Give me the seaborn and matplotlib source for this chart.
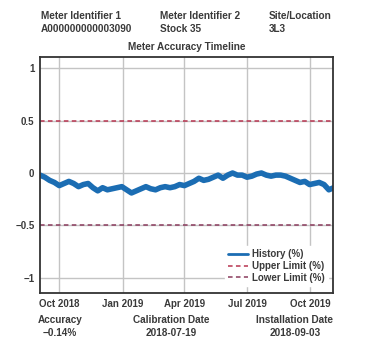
import matplotlib
matplotlib.use("Agg")
import matplotlib.pyplot as plt
import matplotlib.dates as mdates
import seaborn as sns
import pandas as pd

history_dates = pd.date_range("2018-09-03", periods=62, freq="7D")
history_values = [-0.02, -0.04, -0.07, -0.09, -0.12, -0.10, -0.08, -0.10, -0.13, -0.11,
                  -0.10, -0.14, -0.17, -0.14, -0.16, -0.15, -0.14, -0.13, -0.16, -0.19,
                  -0.17, -0.15, -0.13, -0.15, -0.16, -0.14, -0.13, -0.14, -0.13, -0.11,
                  -0.12, -0.10, -0.08, -0.05, -0.07, -0.06, -0.04, -0.02, -0.05, -0.02,
                  0.00, -0.02, -0.02, -0.04, -0.03, -0.01, 0.00, -0.02, -0.03, -0.02,
                  -0.02, -0.03, -0.05, -0.07, -0.09, -0.08, -0.11, -0.10, -0.09, -0.11,
                  -0.16, -0.14]
upper_limit = 0.5
lower_limit = -0.5
y_ticks = [1, 0.5, 0, -0.5, -1]
x_ticks = ["2018-10-01", "2019-01-01", "2019-04-01", "2019-07-01", "2019-10-01"]

header_labels = ["Meter Identifier 1", "Meter Identifier 2", "Site/Location"]
header_values = ["A000000000003090", "Stock 35", "3L3"]
footer_labels = ["Accuracy", "Calibration Date", "Installation Date"]
footer_values = ["\u22120.14%", "2018-07-19", "2018-09-03"]

sns.set_style("whitegrid")
plt.rcParams["font.family"] = ["Liberation Sans", "DejaVu Sans"]
plt.rcParams["font.weight"] = "bold"

TXT = "#3a3a3a"
FS = 7.2
fig = plt.figure(figsize=(3.72, 3.41), dpi=100)
ax = fig.add_axes([0.1075, 0.1408, 0.7876, 0.692])

df = pd.DataFrame({"date": history_dates, "value": history_values})
sns.lineplot(data=df, x="date", y="value", ax=ax, color="#1b6db3", linewidth=4.0,
             label="History (%)")
ax.axhline(upper_limit, color="#b8344f", linestyle=(0, (3, 2.2)), linewidth=1.1,
           label="Upper Limit (%)")
ax.axhline(lower_limit, color="#8a3a5c", linestyle=(0, (3, 2.2)), linewidth=1.1,
           label="Lower Limit (%)")

ax.set_xlim(pd.Timestamp("2018-09-03"), pd.Timestamp("2019-11-03"))
ax.set_ylim(-1.143, 1.105)
ax.set_yticks(y_ticks)
ax.set_yticklabels(["1", "0.5", "0", "\u22120.5", "\u22121"])
ax.set_xticks([pd.Timestamp(d) for d in x_ticks])
ax.xaxis.set_major_formatter(mdates.DateFormatter("%b %Y"))
ax.set_xlabel("")
ax.set_ylabel("")
ax.grid(True, color="#c4c4c4", linewidth=1.0)
ax.tick_params(axis="both", length=0, labelsize=7, colors=TXT, pad=4)
for lab in ax.get_xticklabels() + ax.get_yticklabels():
    lab.set_fontweight("bold")
for s in ax.spines.values():
    s.set_color("#333333")
    s.set_linewidth(1.3)

leg = ax.legend(loc="lower right", frameon=True, fontsize=7, handlelength=2.0,
                handletextpad=0.5, labelspacing=0.2, borderpad=0.3,
                bbox_to_anchor=(1.0, 0.01))
leg.get_frame().set_facecolor("white")
leg.get_frame().set_edgecolor("white")
leg.get_frame().set_alpha(1)
leg.get_lines()[0].set_linewidth(2.0)
for t in leg.get_texts():
    t.set_color(TXT)
    t.set_fontweight("bold")

ax.set_title("Meter Accuracy Timeline", fontsize=FS, fontweight="bold", color=TXT, pad=5)

W, H = 372, 341
hx = [41, 160, 269]
for x, lab, val in zip(hx, header_labels, header_values):
    fig.text(x / W, 1 - 16 / H, lab, fontsize=FS, fontweight="bold", color=TXT,
             ha="left", va="center")
    fig.text(x / W, 1 - 29 / H, val, fontsize=FS, fontweight="bold", color=TXT,
             ha="left", va="center")
fx = [60, 171, 295]
for x, lab, val in zip(fx, footer_labels, footer_values):
    fig.text(x / W, 1 - 320 / H, lab, fontsize=FS, fontweight="bold", color=TXT,
             ha="center", va="center")
    fig.text(x / W, 1 - 333 / H, val, fontsize=FS, fontweight="bold", color=TXT,
             ha="center", va="center")

fig.savefig("out.png", dpi=100, facecolor="white")
